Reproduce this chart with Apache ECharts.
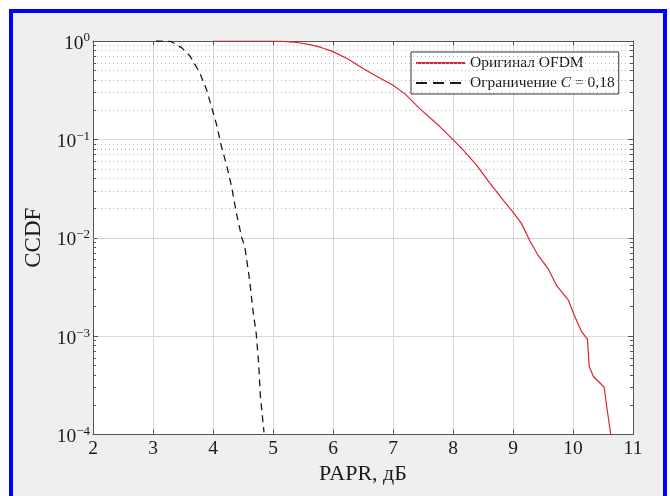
<!DOCTYPE html>
<html>
<head>
<meta charset="utf-8">
<script src="https://cdn.jsdelivr.net/npm/echarts@6/dist/echarts.min.js"></script>
<style>
  html, body { margin: 0; padding: 0; background: #fff; }
  #frame { position: absolute; left: 9px; top: 9px; width: 650px; height: 500px; border: 4px solid #0000ff; background: #efefef; }
  #chart { position: absolute; left: 0; top: 0; width: 670px; height: 496px; }
</style>
</head>
<body>
<div id="frame"></div>
<div id="chart"></div>
<script>
// PAPR, дБ  /  CCDF
var origName = 'Оригинал OFDM';
var origX = [4.0, 5.0, 5.17, 5.4, 5.62, 5.8, 5.99, 6.25, 6.5, 6.75, 7.0, 7.2, 7.45, 7.78, 8.03, 8.17, 8.39, 8.62, 8.84, 9.0, 9.14, 9.28, 9.42, 9.59, 9.73, 9.92, 10.03, 10.14, 10.24, 10.27, 10.34, 10.52, 10.56, 10.63];
var origCcdf = [1, 1, 0.993, 0.965, 0.918, 0.86, 0.785, 0.655, 0.525, 0.43, 0.355, 0.29, 0.204, 0.135, 0.0955, 0.0776, 0.055, 0.0355, 0.024, 0.0182, 0.014, 0.00933, 0.00661, 0.00479, 0.00324, 0.00234, 0.00158, 0.00112, 0.000933, 0.00049, 0.000389, 0.000302, 0.000195, 0.0001];

var clipName = 'Ограничение C = 0,18';
var clipX = [3.05, 3.3, 3.48, 3.62, 3.78, 3.89, 3.97, 4.06, 4.14, 4.23, 4.31, 4.39, 4.48, 4.53, 4.61, 4.67, 4.72, 4.76, 4.79, 4.85];
var clipCcdf = [1, 0.989, 0.851, 0.7, 0.473, 0.324, 0.219, 0.141, 0.0851, 0.0537, 0.0331, 0.0178, 0.01, 0.00813, 0.00372, 0.00174, 0.00107, 0.000537, 0.000245, 0.000105];

var xMin = 2, xMax = 11;
var yMin = 1e-4, yMax = 1;
var decades = [1e-4, 1e-3, 1e-2, 1e-1];
var minorSteps = [2, 3, 4, 5, 6, 7, 8, 9];

var font = '"Liberation Serif", "DejaVu Serif", serif';
var axisColor = '#555';
var textColor = '#1a1a1a';

function pairs(xs, ys) {
  return xs.map(function (x, i) { return [x, ys[i]]; });
}

// minor log grid (2..9 in each decade) and minor ticks, drawn through markLine
var minorVals = [];
decades.forEach(function (d) {
  minorSteps.forEach(function (k) { minorVals.push(k * d); });
});
var tickStyle = { type: 'solid', color: axisColor, width: 1 };
var minorLines = [];
minorVals.forEach(function (v) {
  minorLines.push({ yAxis: v });
  minorLines.push([{ coord: [xMin, v], lineStyle: tickStyle }, { coord: [xMin + 0.05, v] }]);
  minorLines.push([{ coord: [xMax - 0.05, v], lineStyle: tickStyle }, { coord: [xMax, v] }]);
});

var chart = echarts.init(document.getElementById('chart'), null, { renderer: 'canvas' });

var yLabel = {
  fontFamily: font,
  color: textColor,
  margin: 3,
  showMinLabel: true,
  showMaxLabel: true,
  padding: [3, 0, 0, 0],
  formatter: function (v) {
    var e = Math.round(Math.log10(v));
    return '{b|10}{s|' + (e === 0 ? '0' : '\u2212' + (-e)) + '}';
  },
  rich: {
    b: { fontFamily: font, fontSize: 19.5, color: textColor, lineHeight: 22, verticalAlign: 'bottom' },
    s: { fontFamily: font, fontSize: 13, color: textColor, lineHeight: 13, verticalAlign: 'top', padding: [0, 0, 11.5, 0] }
  }
};

var option = {
  animation: false,
  backgroundColor: 'transparent',
  grid: {
    left: 93, top: 41, right: 37, bottom: 61.5,
    show: true, backgroundColor: '#fff', borderWidth: 0
  },
  legend: {
    data: [
      { name: origName },
      { name: clipName, lineStyle: { type: [11, 6] } }
    ],
    orient: 'vertical',
    left: 411, top: 52,
    padding: [3, 4, 3, 4],
    itemWidth: 49, itemHeight: 18, itemGap: 4,
    backgroundColor: '#fff',
    borderColor: '#333', borderWidth: 1, borderRadius: 0,
    itemStyle: { opacity: 0 },
    textStyle: {
      fontFamily: font, fontSize: 15.5, color: textColor,
      rich: {
        i: { fontFamily: font, fontSize: 15.5, fontStyle: 'italic', color: textColor }
      }
    },
    formatter: function (name) {
      return name.replace(' C ', ' {i|C} ');
    }
  },
  xAxis: [{
    type: 'value', min: xMin, max: xMax, interval: 1,
    name: 'PAPR, дБ', nameLocation: 'middle', nameGap: 27,
    nameTextStyle: { fontFamily: font, fontSize: 22, color: textColor },
    axisLine: { lineStyle: { color: axisColor, width: 1 } },
    axisTick: { inside: true, length: 5, lineStyle: { color: axisColor } },
    axisLabel: { fontFamily: font, fontSize: 19.5, color: textColor, margin: 4, showMinLabel: true, showMaxLabel: true },
    splitLine: { show: true, lineStyle: { color: '#d9d9d9', width: 1 } }
  }, {
    type: 'value', min: xMin, max: xMax, interval: 1, position: 'top',
    axisLine: { lineStyle: { color: axisColor, width: 1 } },
    axisTick: { inside: true, length: 5, lineStyle: { color: axisColor } },
    axisLabel: { show: false },
    splitLine: { show: false }
  }],
  yAxis: [{
    type: 'log', logBase: 10, min: yMin, max: yMax,
    name: 'CCDF', nameLocation: 'middle', nameGap: 41,
    nameTextStyle: { fontFamily: font, fontSize: 23, color: textColor },
    axisLine: { show: true, lineStyle: { color: axisColor, width: 1 } },
    axisTick: { show: true, inside: true, length: 5, lineStyle: { color: axisColor } },
    axisLabel: yLabel,
    splitLine: { show: true, lineStyle: { color: '#d9d9d9', width: 1 } }
  }, {
    type: 'log', logBase: 10, min: yMin, max: yMax, position: 'right',
    axisLine: { show: true, lineStyle: { color: axisColor, width: 1 } },
    axisTick: { show: true, inside: true, length: 5, lineStyle: { color: axisColor } },
    axisLabel: { show: false },
    splitLine: { show: false }
  }],
  series: [{
    // minor grid and minor ticks
    name: 'minor',
    type: 'line',
    data: [],
    silent: true,
    markLine: {
      silent: true,
      symbol: ['none', 'none'],
      label: { show: false },
      lineStyle: { type: [1, 3], color: '#b8b8b8', width: 1 },
      data: minorLines
    }
  }, {
    name: origName,
    type: 'line',
    data: pairs(origX, origCcdf),
    symbol: 'none',
    showSymbol: false,
    lineStyle: { color: '#dd2233', width: 1.2 },
    itemStyle: { color: '#dd2233' },
    z: 5
  }, {
    name: clipName,
    type: 'line',
    data: pairs(clipX, clipCcdf),
    symbol: 'none',
    showSymbol: false,
    lineStyle: { color: textColor, width: 1.3, type: [7, 5] },
    itemStyle: { color: textColor },
    z: 5
  }]
};

chart.setOption(option);
</script>
</body>
</html>
